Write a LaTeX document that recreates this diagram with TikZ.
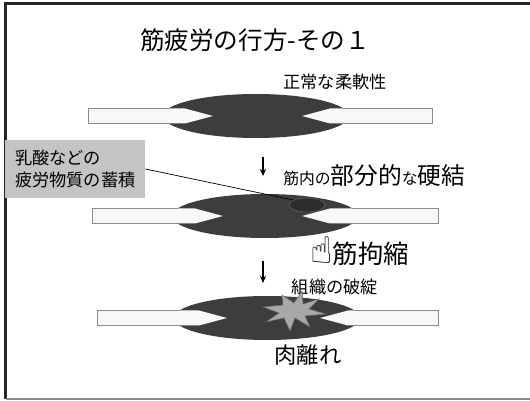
\documentclass[tikz,border=0pt]{standalone}
\usepackage{fontspec}
\setmainfont{Noto Sans CJK JP}
\newfontfamily\symfont{DejaVu Sans}
\usetikzlibrary{positioning,shapes.geometric,arrows.meta}
\definecolor{belly}{HTML}{3D3D3D}
\definecolor{knotgray}{HTML}{2C2C2C}
\definecolor{tendonfill}{HTML}{F8F8F8}
\definecolor{tendonedge}{HTML}{8C8C8C}
\definecolor{boxgray}{HTML}{C4C4C4}
\definecolor{burstgray}{HTML}{A8A8A8}

\begin{document}
\begin{tikzpicture}[x=0.02cm, y=-0.02cm,
	tendon/.style = {fill=tendonfill},
	edge/.style = {draw=tendonedge, line width=0.5pt},
	label/.style = {inner sep=0pt, font=\fontsize{9.8}{12}\selectfont},
	down/.style = {line width=0.8pt, -{Stealth[length=4pt, width=3.5pt]}}]
	\useasboundingbox (0,0) rectangle (530,401);
	\fill[white] (0,0) rectangle (530,401);
	\draw[line width=1.2pt, black!85] (530,3.5) -- (5.5,3.5) -- (5.5,399);
	\draw[line width=1.2pt, black!45] (6,399.2) -- (530,399.2);

	\foreach \n/\cx/\cy/\lx/\rx/\tl/\tr in {1/256/116/88/432/213/302, 2/265/216/92/438/223/302, 3/267/318/97/438/227/320} {
		\fill[belly] (\cx,\cy) ellipse [x radius=93, y radius=22];
		\fill[tendon] (\lx,\cy-7.5) -- (\tl-28,\cy-7.5) -- (\tl,\cy) -- (\tl-28,\cy+7.5) -- (\lx,\cy+7.5) -- cycle;
		\fill[tendon] (\rx,\cy-7.5) -- (\tr+28,\cy-7.5) -- (\tr,\cy) -- (\tr+28,\cy+7.5) -- (\rx,\cy+7.5) -- cycle;
		\draw[edge] (\cx-87,\cy-7.5) -- (\lx,\cy-7.5) -- (\lx,\cy+7.5) -- (\cx-87,\cy+7.5);
		\draw[edge] (\cx+87,\cy-7.5) -- (\rx,\cy-7.5) -- (\rx,\cy+7.5) -- (\cx+87,\cy+7.5);
	}

	\node (title) at (255,40) {\fontsize{14}{16}\selectfont 筋疲労の行方-その１};
	\node[label] (normal) at (335,82) {正常な柔軟性};

	\node[ellipse, fill=knotgray, draw=black!65, line width=0.4pt, minimum width=0.72cm, minimum height=0.28cm, inner sep=0pt] (knot) at (307,205) {};
	\node[fill=boxgray, minimum width=2.8cm, minimum height=1.16cm, inner xsep=0.2cm, text width=2.4cm, align=left, font=\fontsize{9.8}{12.5}\selectfont] (box) at (75,169) {乳酸などの\\疲労物質の蓄積};
	\draw[line width=0.4pt] (box.east) -- (knot.160);

	\coordinate (a1) at (263,157);
	\coordinate (b1) at (263,176);
	\draw[down] (a1) -- (b1);
	\node[anchor=west, inner sep=0pt] (hard) at (283,176) {{\fontsize{9}{10}\selectfont 筋内の}{\fontsize{13.5}{15}\selectfont 部分的}{\fontsize{9}{10}\selectfont な}{\fontsize{13.5}{15}\selectfont 硬結}};
	\node[anchor=west, inner sep=0pt] (contract) at (310,251) {{\symfont\fontsize{21}{22}\selectfont ☝}{\fontsize{14.5}{16}\selectfont 筋拘縮}};

	\coordinate (a2) at (263,261);
	\coordinate (b2) at (263,283);
	\draw[down] (a2) -- (b2);
	\node[label] (rupture) at (335,287) {組織の破綻};
	\filldraw[fill=burstgray, draw=black!60, line width=0.3pt] (326,314) -- (309,309) -- (319,299) -- (303,304) -- (302,291) -- (294,303) -- (282,295) -- (283,305) -- (263,307) -- (279,313) -- (266,322) -- (284,318) -- (290,331) -- (295,318) -- (310,327) -- (305,316) -- cycle;
	\node (tear) at (308,355) {\fontsize{12.7}{14}\selectfont 肉離れ};
\end{tikzpicture}
\end{document}
